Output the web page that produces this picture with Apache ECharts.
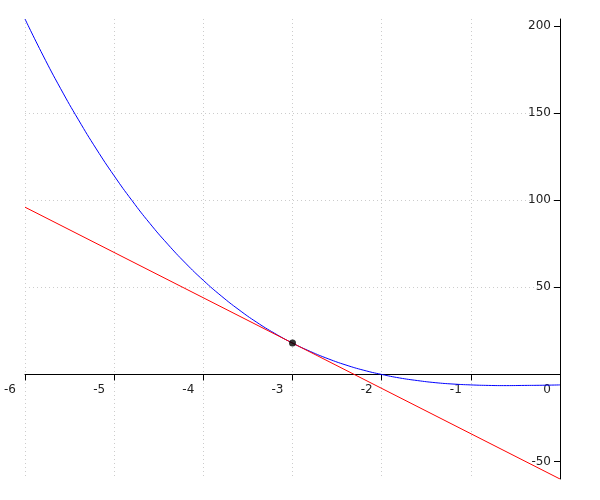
<!DOCTYPE html>
<html><head><meta charset="utf-8">
<script src="https://cdn.jsdelivr.net/npm/echarts@6/dist/echarts.min.js"></script>
<style>html,body{margin:0;padding:0;background:#fff}#c{width:600px;height:500px}</style>
</head><body><div id="c"></div>
<script>
// Curve samples (x, y)
const curveX = [-6,-5.8,-5.6,-5.4,-5.2,-5,-4.8,-4.6,-4.4,-4.2,-4,-3.8,-3.6,-3.4,-3.2,-3,-2.8,-2.6,-2.4,-2.2,-2,-1.8,-1.6,-1.4,-1.2,-1,-0.8,-0.6,-0.4,-0.2,0];
const curveY = [204,183.3,164.0,146.1,129.4,114,99.8,86.7,74.8,63.9,54,45.1,37.1,29.9,23.6,18,13.2,9.0,5.4,2.4,0,-2.0,-3.5,-4.7,-5.5,-6,-6.3,-6.4,-6.3,-6.2,-6];
// Tangent line end points
const tangentX = [-6, 0];
const tangentY = [96, -60];
// Tangent point
const pointX = [-3];
const pointY = [18];
// Ticks
const xTicks = [-6,-5,-4,-3,-2,-1,0];
const yTicks = [-50,0,50,100,150,200];
const yMin = -60, yMax = 204;

const zip = (a,b) => a.map((v,i)=>[v,b[i]]);
const gridTop = 19, gridBottom = 21, H = 500;
const plotH = H - gridTop - gridBottom;
// distance from grid bottom up to y = 0, so the x axis sits on zero
const zeroOffset = (0 - yMin) / (yMax - yMin) * plotH;
const chart = echarts.init(document.getElementById('c'), null, {renderer:'canvas'});
const txt = {color:'#222', fontFamily:'DejaVu Sans', fontSize:12};
chart.setOption({
  animation:false,
  grid:{left:25,right:40,top:gridTop,bottom:gridBottom,containLabel:false},
  xAxis:{type:'value',min:-6,max:0,interval:1,position:'bottom',offset:-zeroOffset,
    axisLine:{onZero:false,lineStyle:{color:'#000',width:1}},
    axisTick:{show:true,length:6,lineStyle:{color:'#000'}},
    axisLabel:Object.assign({align:'right',margin:9,padding:[0,9,0,0]},txt),
    splitLine:{show:true,lineStyle:{color:'#ccc',type:[1,3],width:1}}},
  yAxis:{type:'value',min:yMin,max:yMax,position:'right',
    axisLine:{show:true,onZero:false,lineStyle:{color:'#000',width:1}},
    axisTick:{show:true,inside:true,length:6,customValues:yTicks,lineStyle:{color:'#000'}},
    axisLabel:Object.assign({inside:true,margin:9,customValues:yTicks.filter(v=>v!==0)},txt),
    splitLine:{show:true,showMinLine:false,showMaxLine:false,lineStyle:{color:'#ccc',type:[1,3],width:1}}},
  series:[
    {type:'line',data:zip(curveX,curveY),smooth:true,showSymbol:false,lineStyle:{color:'#0000ff',width:1},z:2},
    {type:'line',data:zip(tangentX,tangentY),showSymbol:false,lineStyle:{color:'#ff0000',width:1},z:3},
    {type:'scatter',data:zip(pointX,pointY),symbolSize:7,itemStyle:{color:'#000'},z:4}
  ]
});
</script></body></html>
